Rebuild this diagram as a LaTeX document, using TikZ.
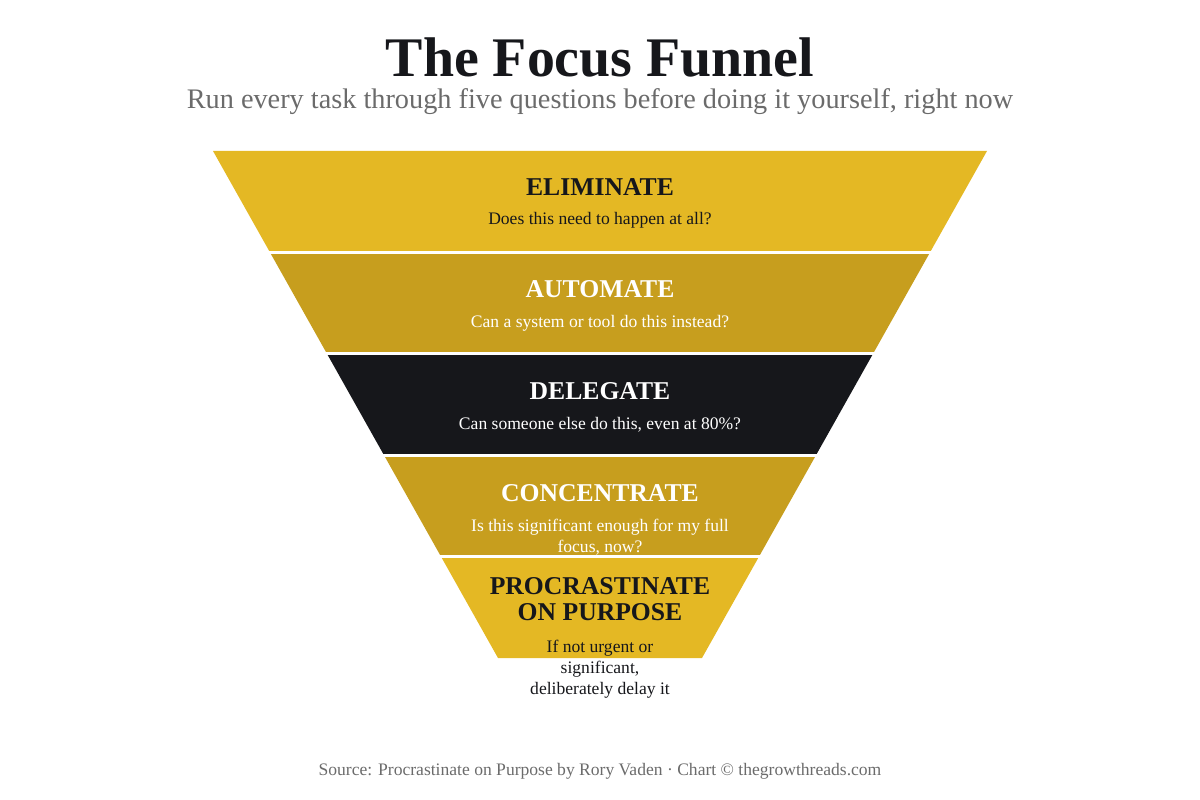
\documentclass[tikz,border=0pt]{standalone}
\usepackage{fontspec}
\setmainfont{Liberation Serif}
\usepackage{xcolor}
\definecolor{gold}{HTML}{E4B824}
\definecolor{ochre}{HTML}{C79E1E}
\definecolor{ink}{HTML}{16171B}
\definecolor{greytxt}{HTML}{6B6B6B}

\begin{document}
\begin{tikzpicture}[x=0.02cm,y=-0.02cm,
  every node/.style={align=center,inner sep=0pt},
  bandtitle/.style={font=\fontsize{14.6}{17}\selectfont\bfseries},
  bandtext/.style={font=\fontsize{10}{11.8}\selectfont}]
\useasboundingbox (0,0) rectangle (1200,800);
\node (title) at (600,57) {\fontsize{31.8}{36}\selectfont\bfseries\color{ink}The Focus Funnel};
\node (sub) at (600,102) {\fontsize{16.1}{19}\selectfont\color{greytxt}Run every task through five questions before doing it yourself, right now};
\fill[gold] (213,151) -- (987,151) -- (930,252.4) -- (270,252.4) -- cycle;
\node[bandtitle,text=ink] (elim) at (600,187) {ELIMINATE};
\node[bandtext,text=ink] (elimq) at (600,220) {Does this need to happen at all?};
\fill[ochre] (270,252.4) -- (930,252.4) -- (873,353.8) -- (327,353.8) -- cycle;
\node[bandtitle,text=white] (auto) at (600,289) {AUTOMATE};
\node[bandtext,text=white] (autoq) at (600,323) {Can a system or tool do this instead?};
\fill[ink] (327,353.8) -- (873,353.8) -- (816,455.2) -- (384,455.2) -- cycle;
\node[bandtitle,text=white] (dele) at (600,391) {DELEGATE};
\node[bandtext,text=white] (deleq) at (600,425) {Can someone else do this, even at 80\%?};
\fill[ochre] (384,455.2) -- (816,455.2) -- (759,556.6) -- (441,556.6) -- cycle;
\node[bandtitle,text=white] (conc) at (600,493) {CONCENTRATE};
\node[bandtext,text=white] (concq) at (600,537) {Is this significant enough for my full\\focus, now?};
\fill[gold] (441,556.6) -- (759,556.6) -- (702,658) -- (498,658) -- cycle;
\node[bandtitle,text=ink,font=\fontsize{14.6}{14.8}\selectfont\bfseries] (proc) at (600,599) {PROCRASTINATE\\ON PURPOSE};
\node[bandtext,text=ink] (procq) at (600,669) {If not urgent or\\significant,\\deliberately delay it};
% white gaps between the bands
\draw[white,line width=1.7pt] (200,252.4) -- (1000,252.4);
\draw[white,line width=1.7pt] (200,353.8) -- (1000,353.8);
\draw[white,line width=1.7pt] (200,455.2) -- (1000,455.2);
\draw[white,line width=1.7pt] (200,556.6) -- (1000,556.6);
\node (src) at (600,771) {\fontsize{10}{12}\selectfont\color{greytxt}Source: Procrastinate on Purpose by Rory Vaden · Chart © thegrowthreads.com};
\end{tikzpicture}
\end{document}
